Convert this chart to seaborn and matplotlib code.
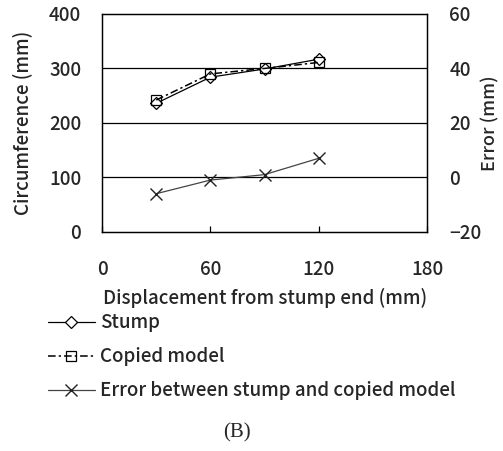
import matplotlib
matplotlib.use("Agg")
import matplotlib.pyplot as plt
import seaborn as sns
import pandas as pd

# values
disp = [30, 60, 90, 120]
stump = [236, 284, 299, 317]
copied = [242, 290, 300, 311]
error = [-6, -1, 1, 7]

df = pd.DataFrame({"disp": disp, "stump": stump, "copied": copied, "error": error})

sns.set_theme(style="white")
plt.rcParams["font.family"] = ["Noto Sans CJK JP", "DejaVu Sans"]
plt.rcParams["font.weight"] = "medium"
plt.rcParams["axes.labelweight"] = "medium"
fs = 13.5

fig = plt.figure(figsize=(5.03, 4.51), dpi=100)
ax = fig.add_axes([0.203, 0.486, 0.646, 0.483])
ax2 = ax.twinx()

sns.lineplot(data=df, x="disp", y="stump", ax=ax, color="black", lw=0.9,
             marker="D", markersize=6, markerfacecolor="white",
             markeredgecolor="black", markeredgewidth=0.9, label="Stump")
sns.lineplot(data=df, x="disp", y="copied", ax=ax, color="black", lw=1.1,
             marker="s", markersize=7, markerfacecolor="none",
             markeredgecolor="black", markeredgewidth=0.9, label="Copied model")
ax.lines[-1].set_dashes([5, 2, 1.5, 2])
sns.lineplot(data=df, x="disp", y="error", ax=ax2, color="#444444", lw=0.9,
             marker="x", markersize=9, markeredgecolor="#222222",
             markeredgewidth=1.0, label="Error between stump and copied model")

ax.set_xlim(0, 180)
ax.set_ylim(0, 400)
ax2.set_ylim(-20, 60)
ax.set_xticks([0, 60, 120, 180])
ax.set_yticks([0, 100, 200, 300, 400])
ax2.set_yticks([-20, 0, 20, 40, 60])

for y in [100, 200, 300]:
    ax.axhline(y, color="black", lw=0.9, zorder=0)

for a in (ax, ax2):
    for s in a.spines.values():
        s.set_color("black")
        s.set_linewidth(0.9)

ax.tick_params(axis="x", direction="in", length=4, width=0.9, color="black",
               pad=20, labelsize=fs, bottom=True)
ax.tick_params(axis="y", length=0, pad=15, labelsize=fs)
ax2.tick_params(axis="y", length=0, pad=16, labelsize=fs)

ax.set_xlabel("Displacement from stump end (mm)", fontsize=fs, labelpad=7)
ax.set_ylabel("Circumference (mm)", fontsize=fs, labelpad=12)
ax2.set_ylabel("Error (mm)", fontsize=13, labelpad=0)

h1, l1 = ax.get_legend_handles_labels()
h2, l2 = ax2.get_legend_handles_labels()
ax.get_legend().remove()
ax2.get_legend().remove()
fig.legend(h1 + h2, l1 + l2, loc="upper left", bbox_to_anchor=(0.095, 0.305),
           frameon=False, fontsize=fs, handlelength=2.5, handletextpad=0.3,
           labelspacing=0.8, borderaxespad=0, borderpad=0)

fig.text(0.472, 0.03, "(B)", fontsize=15, family="Liberation Serif", ha="center")

fig.savefig("out.png", dpi=100)
